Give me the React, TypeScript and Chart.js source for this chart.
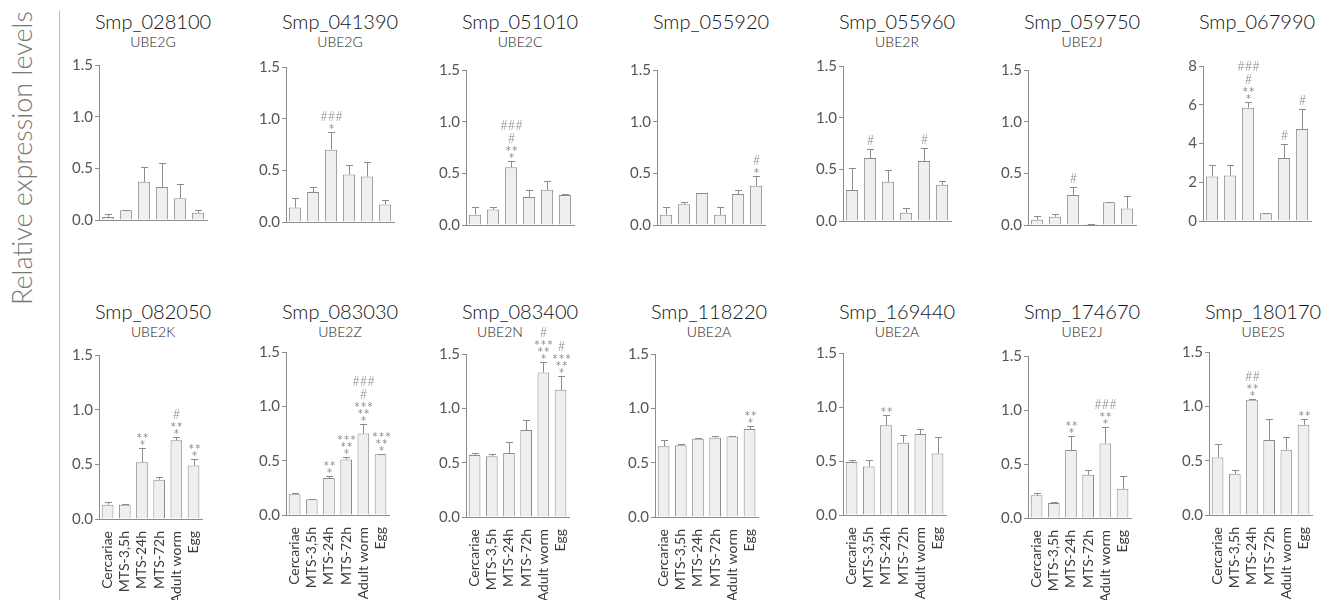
import React, { useEffect, useRef } from "react";
import { Chart, registerables } from "chart.js";

Chart.register(...registerables);

// ---------------- DATA ----------------
const CATEGORIES = ["Cercariae", "MTS-3,5h", "MTS-24h", "MTS-72h", "Adult worm", "Egg"];

const GENE_IDS = [
  "Smp_028100", "Smp_041390", "Smp_051010", "Smp_055920", "Smp_055960", "Smp_059750", "Smp_067990",
  "Smp_082050", "Smp_083030", "Smp_083400", "Smp_118220", "Smp_169440", "Smp_174670", "Smp_180170",
];
const GENE_NAMES = [
  "UBE2G", "UBE2G", "UBE2C", "", "UBE2R", "UBE2J", "",
  "UBE2K", "UBE2Z", "UBE2N", "UBE2A", "UBE2A", "UBE2J", "UBE2S",
];

const Y_TITLE = "Relative expression levels";

// mean values and error (upper SD) per stage
const MEAN_028100 = [0.03, 0.095, 0.37, 0.32, 0.21, 0.07];
const ERR_028100 = [0.025, 0.005, 0.14, 0.23, 0.14, 0.03];
const SIG_028100 = ["", "", "", "", "", ""];

const MEAN_041390 = [0.14, 0.29, 0.7, 0.46, 0.44, 0.17];
const ERR_041390 = [0.09, 0.05, 0.17, 0.09, 0.14, 0.04];
const SIG_041390 = ["", "", "###/*", "", "", ""];

const MEAN_051010 = [0.1, 0.15, 0.56, 0.27, 0.34, 0.29];
const ERR_051010 = [0.07, 0.02, 0.06, 0.07, 0.09, 0.01];
const SIG_051010 = ["", "", "###/#/**/*", "", "", ""];

const MEAN_055920 = [0.1, 0.2, 0.31, 0.1, 0.3, 0.38];
const ERR_055920 = [0.07, 0.02, 0.0, 0.07, 0.04, 0.09];
const SIG_055920 = ["", "", "", "", "", "#/*"];

const MEAN_055960 = [0.3, 0.61, 0.38, 0.08, 0.58, 0.35];
const ERR_055960 = [0.21, 0.09, 0.11, 0.05, 0.13, 0.04];
const SIG_055960 = ["", "#", "", "", "#", ""];

const MEAN_059750 = [0.05, 0.08, 0.29, 0.01, 0.22, 0.16];
const ERR_059750 = [0.04, 0.03, 0.08, 0.0, 0.0, 0.12];
const SIG_059750 = ["", "", "#", "", "", ""];

const MEAN_067990 = [2.3, 2.35, 5.85, 0.4, 3.25, 4.75];
const ERR_067990 = [0.6, 0.55, 0.3, 0.0, 0.75, 1.05];
const SIG_067990 = ["", "", "###/#/**/*", "", "#", "#"];

const MEAN_082050 = [0.13, 0.13, 0.52, 0.36, 0.72, 0.49];
const ERR_082050 = [0.03, 0.005, 0.13, 0.02, 0.03, 0.06];
const SIG_082050 = ["", "", "**/*", "", "#/**/*", "**/*"];

const MEAN_083030 = [0.19, 0.145, 0.34, 0.51, 0.75, 0.56];
const ERR_083030 = [0.015, 0.0, 0.02, 0.02, 0.09, 0.005];
const SIG_083030 = ["", "", "**/*", "***/**/*", "###/#/***/**/*", "***/**/*"];

const MEAN_083400 = [0.57, 0.56, 0.59, 0.8, 1.33, 1.17];
const ERR_083400 = [0.02, 0.02, 0.1, 0.09, 0.1, 0.13];
const SIG_083400 = ["", "", "", "", "#/***/**/*", "#/***/**/*"];

const MEAN_118220 = [0.65, 0.66, 0.72, 0.73, 0.74, 0.81];
const ERR_118220 = [0.06, 0.01, 0.005, 0.02, 0.01, 0.03];
const SIG_118220 = ["", "", "", "", "", "**/*"];

const MEAN_169440 = [0.49, 0.45, 0.83, 0.67, 0.75, 0.57];
const ERR_169440 = [0.02, 0.06, 0.1, 0.07, 0.05, 0.15];
const SIG_169440 = ["", "", "**", "", "", ""];

const MEAN_174670 = [0.21, 0.14, 0.63, 0.4, 0.69, 0.27];
const ERR_174670 = [0.02, 0.005, 0.13, 0.04, 0.15, 0.12];
const SIG_174670 = ["", "", "**/*", "", "###/**/*", ""];

const MEAN_180170 = [0.53, 0.38, 1.06, 0.69, 0.6, 0.83];
const ERR_180170 = [0.12, 0.03, 0.005, 0.19, 0.12, 0.05];
const SIG_180170 = ["", "", "##/**/*", "", "", "**"];

const Y_MAX_DEFAULT = 1.5;
const Y_STEP_DEFAULT = 0.5;
const Y_MAX_067990 = 8;
const Y_STEP_067990 = 2;

// ---------------- STYLE / LAYOUT ----------------
const FONT = "Lato, 'Open Sans', 'DejaVu Sans', sans-serif";
const STAR_FONT = "'DejaVu Sans', sans-serif";
const BAR_FILL = "#efefef";
const BAR_EDGE = "#8c8c8c";
const AXIS_COLOR = "#8c8c8c";
const TICK_COLOR = "#555555";
const SIG_COLOR = "#8a8a8a";

const PLOT_W = 108;
const Y_AXIS_W = 40;
const PAD_TOP = 72;
const PAD_RIGHT = 8;
const X_AXIS_H = [4, 86];

const PANEL_X = [99, 286, 466, 657, 843, 1028, 1203, 99, 286, 466, 655, 843, 1028, 1209];
const PANEL_TOP = [65, 67, 70, 70, 66, 70, 66, 355, 352, 354, 354, 353, 356, 352];
const PANEL_BASE = [227, 229, 232, 232, 228, 232, 228, 519, 515, 517, 517, 515, 518, 515];
const SUB_SHIFT = [0, 0, 0, 0, 0, 0, 0, 0, 0, -20, 0, 0, 0, 0];
const TITLE_TOP = [9, 299];
const SUB_TOP = [34, 324];

type PanelDef = {
  id: string;
  name: string;
  mean: number[];
  err: number[];
  sig: string[];
  max: number;
  step: number;
  decimals: number;
  row: number;
};

const SERIES: [number[], number[], string[]][] = [
  [MEAN_028100, ERR_028100, SIG_028100],
  [MEAN_041390, ERR_041390, SIG_041390],
  [MEAN_051010, ERR_051010, SIG_051010],
  [MEAN_055920, ERR_055920, SIG_055920],
  [MEAN_055960, ERR_055960, SIG_055960],
  [MEAN_059750, ERR_059750, SIG_059750],
  [MEAN_067990, ERR_067990, SIG_067990],
  [MEAN_082050, ERR_082050, SIG_082050],
  [MEAN_083030, ERR_083030, SIG_083030],
  [MEAN_083400, ERR_083400, SIG_083400],
  [MEAN_118220, ERR_118220, SIG_118220],
  [MEAN_169440, ERR_169440, SIG_169440],
  [MEAN_174670, ERR_174670, SIG_174670],
  [MEAN_180170, ERR_180170, SIG_180170],
];

const PANELS: PanelDef[] = GENE_IDS.map((id, i) => {
  const big = id === "Smp_067990";
  return {
    id,
    name: GENE_NAMES[i],
    mean: SERIES[i][0],
    err: SERIES[i][1],
    sig: SERIES[i][2],
    max: big ? Y_MAX_067990 : Y_MAX_DEFAULT,
    step: big ? Y_STEP_067990 : Y_STEP_DEFAULT,
    decimals: big ? 0 : 1,
    row: i < 7 ? 0 : 1,
  };
});

function makeOverlayPlugin(p: PanelDef) {
  return {
    id: "errAndSig",
    afterDatasetsDraw(chart: any) {
      const ctx = chart.ctx;
      const meta = chart.getDatasetMeta(0);
      const yScale = chart.scales.y;
      ctx.save();
      meta.data.forEach((bar: any, i: number) => {
        const x = Math.round(bar.x) + 0.5;
        const top = p.mean[i] + p.err[i];
        const yTop = Math.round(yScale.getPixelForValue(top)) + 0.5;
        const yBar = yScale.getPixelForValue(p.mean[i]);
        ctx.strokeStyle = BAR_EDGE;
        ctx.lineWidth = 1;
        ctx.beginPath();
        ctx.moveTo(x, yBar);
        ctx.lineTo(x, yTop);
        ctx.moveTo(x - 3.5, yTop);
        ctx.lineTo(x + 3.5, yTop);
        ctx.stroke();

        const s = p.sig[i];
        if (s) {
          const lines = s.split("/");
          ctx.fillStyle = SIG_COLOR;
          ctx.textAlign = "center";
          ctx.textBaseline = "alphabetic";
          // g = y of the bottom of the next glyph row
          let g = yTop - 5;
          for (let k = lines.length - 1; k >= 0; k--) {
            const t = lines[k];
            if (t[0] === "*") {
              ctx.font = `10px ${STAR_FONT}`;
              (ctx as any).letterSpacing = "1.5px";
              const base = g + 4;
              ctx.fillText(t, x + 0.75, base);
              g = base - 7.3 - 3.5;
            } else {
              ctx.font = `300 13px ${FONT}`;
              (ctx as any).letterSpacing = "0px";
              ctx.fillText(t, x, g);
              g = g - 9.3 - 4;
            }
          }
        }
      });
      ctx.restore();
    },
  };
}

function Panel({ p, idx }: { p: PanelDef; idx: number }) {
  const ref = useRef<HTMLCanvasElement>(null);
  const xh = X_AXIS_H[p.row];
  const plotH = PANEL_BASE[idx] - PANEL_TOP[idx];
  const width = Y_AXIS_W + PLOT_W + PAD_RIGHT;
  const height = PAD_TOP + plotH + xh;

  useEffect(() => {
    const chart = new Chart(ref.current as HTMLCanvasElement, {
      type: "bar",
      data: {
        labels: CATEGORIES,
        datasets: [
          {
            data: p.mean,
            backgroundColor: BAR_FILL,
            borderColor: BAR_EDGE,
            borderWidth: 1,
            barPercentage: 0.68,
            categoryPercentage: 1,
          },
        ],
      },
      options: {
        responsive: false,
        animation: false,
        events: [],
        layout: {
          autoPadding: false,
          padding: { top: PAD_TOP, right: PAD_RIGHT, left: 0, bottom: 0 },
        },
        plugins: {
          legend: { display: false },
          tooltip: { enabled: false },
          title: { display: false },
        },
        scales: {
          x: {
            offset: true,
            grid: { display: false },
            border: { display: true, color: AXIS_COLOR, width: 1 },
            ticks: {
              display: p.row === 1,
              autoSkip: false,
              minRotation: 90,
              maxRotation: 90,
              padding: 4,
              color: "#3a3a3a",
              font: { family: FONT, size: 14 },
            },
            afterFit: (s: any) => {
              s.height = xh;
            },
          },
          y: {
            min: 0,
            max: p.max,
            grid: {
              display: true,
              drawOnChartArea: false,
              drawTicks: true,
              tickLength: 4,
              color: AXIS_COLOR,
            },
            border: { display: true, color: AXIS_COLOR, width: 1 },
            ticks: {
              stepSize: p.step,
              padding: 2,
              color: TICK_COLOR,
              font: { family: FONT, size: 15 },
              callback: (v: any) => Number(v).toFixed(p.decimals),
            },
            afterFit: (s: any) => {
              s.width = Y_AXIS_W;
            },
          },
        },
      } as any,
      plugins: [makeOverlayPlugin(p)],
    });
    return () => chart.destroy();
  }, []);

  const left = PANEL_X[idx];
  return (
    <>
      <div
        style={{
          position: "absolute",
          left: left - 40,
          width: PLOT_W + 80,
          top: TITLE_TOP[p.row],
          textAlign: "center",
          fontFamily: FONT,
          fontWeight: 300,
          fontSize: 20,
          lineHeight: "24px",
          color: "#111",
        }}
      >
        {p.id}
      </div>
      {p.name ? (
        <div
          style={{
            position: "absolute",
            left: left - 40 + SUB_SHIFT[idx],
            width: PLOT_W + 80,
            top: SUB_TOP[p.row],
            textAlign: "center",
            fontFamily: FONT,
            fontWeight: 300,
            fontSize: 14,
            lineHeight: "16px",
            color: "#222",
          }}
        >
          {p.name}
        </div>
      ) : null}
      <canvas
        ref={ref}
        width={width}
        height={height}
        style={{
          position: "absolute",
          left: left - Y_AXIS_W,
          top: PANEL_TOP[idx] - PAD_TOP,
          width,
          height,
        }}
      />
    </>
  );
}

export default function App() {
  return (
    <div
      style={{
        position: "absolute",
        left: 0,
        top: 0,
        width: 1336,
        height: 600,
        background: "#ffffff",
        overflow: "hidden",
      }}
    >
      <div
        style={{
          position: "absolute",
          left: 22 - 170,
          top: 158 - 16,
          width: 340,
          height: 32,
          lineHeight: "32px",
          textAlign: "center",
          transform: "rotate(-90deg)",
          fontFamily: FONT,
          fontWeight: 300,
          fontSize: 27,
          color: "#777",
          whiteSpace: "nowrap",
        }}
      >
        {Y_TITLE}
      </div>
      <div
        style={{
          position: "absolute",
          left: 59,
          top: 10,
          width: 1,
          height: 590,
          background: "#bdbdbd",
        }}
      />
      {PANELS.map((p, i) => (
        <Panel key={p.id} p={p} idx={i} />
      ))}
    </div>
  );
}
